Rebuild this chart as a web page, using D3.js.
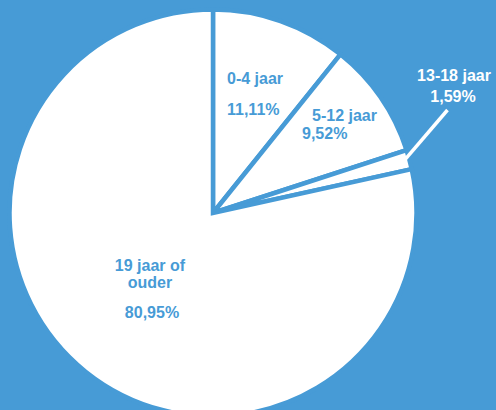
<!DOCTYPE html>
<html>
<head>
<meta charset="utf-8">
<script src="https://cdn.jsdelivr.net/npm/d3@7"></script>
<style>
  html, body { margin: 0; padding: 0; background: #479bd6; }
  svg { display: block; }
  text { font-family: "Liberation Sans", Arial, sans-serif; font-weight: bold; font-size: 16px; }
</style>
</head>
<body>
<script>
let width = 496,
    height = 410,
    cx = 213,
    cy = 213,
    radius = 203.5;

let blue = "#479bd6";

// data
let categories = ["0-4 jaar", "5-12 jaar", "13-18 jaar", "19 jaar of ouder"];
let values = [11.11, 9.52, 1.59, 80.95];
let valueLabels = ["11,11%", "9,52%", "1,59%", "80,95%"];

// label layout (lines of text, per slice)
let labelLines = [
    [{t: "0-4 jaar", x: 227, y: 84, a: "start"}, {t: "11,11%", x: 227, y: 115, a: "start"}],
    [{t: "5-12 jaar", x: 312, y: 121, a: "start"}, {t: "9,52%", x: 302, y: 139, a: "start"}],
    [{t: "13-18 jaar", x: 454, y: 81, a: "middle"}, {t: "1,59%", x: 453, y: 102, a: "middle"}],
    [{t: "19 jaar of", x: 150, y: 271, a: "middle"}, {t: "ouder", x: 150, y: 288, a: "middle"}, {t: "80,95%", x: 152, y: 318, a: "middle"}]
];
let labelColor = [blue, blue, "#fff", blue];

let data = categories.map((c, i) => ({name: c, value: values[i]}));

const svg = d3.select("body").append("svg")
    .attr("width", width)
    .attr("height", height)
    .attr("viewBox", [0, 0, width, height]);

svg.append("rect")
    .attr("width", width)
    .attr("height", height)
    .attr("fill", blue);

let pie = d3.pie()
    .sort(null)
    .value(d => d.value);

let arc = d3.arc()
    .innerRadius(0)
    .outerRadius(radius);

const g = svg.append("g")
    .attr("transform", `translate(${cx},${cy})`);

const arcs = pie(data);

g.selectAll("path")
  .data(arcs)
  .join("path")
    .attr("d", arc)
    .attr("fill", "#fff")
    .attr("stroke", blue)
    .attr("stroke-width", 4.5)
    .attr("stroke-linejoin", "miter");

// leader line for the small slice, starting at its outer edge
let small = arcs[2];
let mid = (small.startAngle + small.endAngle) / 2;
let lx0 = cx + Math.sin(mid) * (radius - 10),
    ly0 = cy - Math.cos(mid) * (radius - 10);
svg.append("line")
    .attr("x1", lx0 + 4)
    .attr("y1", ly0 - 1)
    .attr("x2", 447.5)
    .attr("y2", 110)
    .attr("stroke", "#fff")
    .attr("stroke-width", 3.5);

labelLines.forEach((lines, i) => {
  lines.forEach(l => {
    svg.append("text")
        .attr("x", l.x)
        .attr("y", l.y)
        .attr("text-anchor", l.a)
        .attr("fill", labelColor[i])
        .text(l.t);
  });
});
</script>
</body>
</html>
